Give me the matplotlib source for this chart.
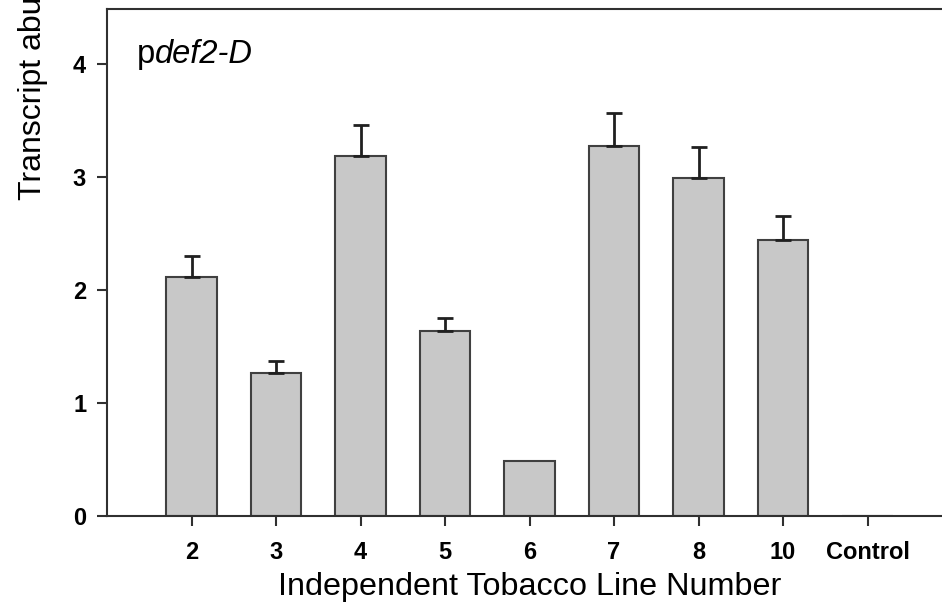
import numpy as np
import matplotlib
matplotlib.use("Agg")
import matplotlib.pyplot as plt

plt.rcParams['font.family'] = ['Liberation Sans', 'DejaVu Sans']

# data
lines = ["2", "3", "4", "5", "6", "7", "8", "10", "Control"]
means = [2.12, 1.27, 3.19, 1.64, 0.49, 3.28, 2.99, 2.44, 0.0]
err_up = [0.18, 0.10, 0.27, 0.11, 0.0, 0.29, 0.28, 0.22, 0.0]
yticks = [0, 1, 2, 3, 4]

fig = plt.figure(figsize=(9.42, 6.08), dpi=100)
# axes extend slightly past the right edge, like the cropped original
ax = fig.add_axes([107 / 942, 92 / 608, 845 / 942, 507 / 608])

x = np.arange(len(lines))
ax.bar(x, means, width=0.6, color="#c8c8c8", edgecolor="#404040", linewidth=1.5, zorder=2)

# only upper error bars, skip lines without error
has_err = np.array(err_up) > 0
ax.errorbar(x[has_err], np.array(means)[has_err],
            yerr=[np.zeros(has_err.sum()), np.array(err_up)[has_err]],
            fmt="none", ecolor="#202020", elinewidth=2, capsize=6, capthick=2, zorder=3)

ax.set_xlim(-1, 9)
ax.set_ylim(0, 4.49)
ax.set_xticks(x)
ax.set_xticklabels(lines, fontsize=17, fontweight="bold")
ax.set_yticks(yticks)
ax.set_yticklabels([str(t) for t in yticks], fontsize=17, fontweight="bold")
ax.tick_params(axis="x", length=7, width=1.5, pad=11, color="#303030")
ax.tick_params(axis="y", length=7, width=1.5, pad=8, color="#303030")
for s in ax.spines.values():
    s.set_linewidth(1.5)
    s.set_color("#303030")

ax.set_xlabel("Independent Tobacco Line Number", fontsize=23.3, labelpad=6)
fig.text(33 / 942, 1 - 200 / 608, "Transcript abundance", rotation=90,
         fontsize=23, ha="center", va="bottom")

# construct name: plain "p" followed by italic "def2-D"
p = ax.text(0.035, 0.88, "p", transform=ax.transAxes, fontsize=23.5, va="bottom", ha="left")
ax.annotate("def2-D", xy=(1, 0), xycoords=p, fontsize=23.5, style="italic",
            va="bottom", ha="left")

fig.savefig("out.png", dpi=100)
